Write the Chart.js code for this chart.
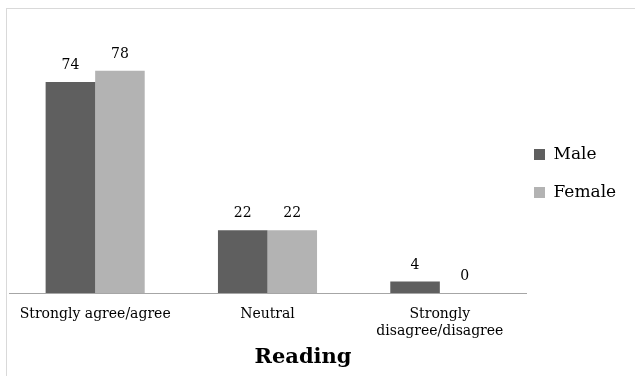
<!DOCTYPE html>
<html>
<head>
<meta charset="utf-8">
<script src="https://cdn.jsdelivr.net/npm/chart.js@4.4.1/dist/chart.umd.min.js"></script>
<style>
  html, body { margin: 0; padding: 0; background: #ffffff; }
  #wrap { position: relative; width: 635px; height: 376px; }
  canvas { display: block; }
</style>
</head>
<body>
<div id="wrap"><canvas id="c" width="635" height="376"></canvas></div>
<script>
const categories = ['Strongly agree/agree', 'Neutral', ['Strongly', 'disagree/disagree']];
const maleValues = [74, 22, 4];
const femaleValues = [78, 22, 0];
const seriesNames = ['Male', 'Female'];
const chartTitle = 'Reading';

const SERIF = '"DejaVu Serif", "Liberation Serif", serif';

// layout targets (pixels)
const PLOT_LEFT = 9, PLOT_RIGHT = 526, TITLE_CENTER = 303;
const LEG_FONT = 17, LEG_BOX = 11, LEG_PAD = 8;

// measure widest legend text to size the right-hand legend box
const mctx = document.createElement('canvas').getContext('2d');
mctx.font = LEG_FONT + 'px ' + SERIF;
const legTextW = Math.max(...seriesNames.map(s => mctx.measureText(s).width));
const legendW = LEG_PAD + LEG_BOX + LEG_FONT / 2 + legTextW + 10;
const padRight = 635 - PLOT_RIGHT - legendW;
const padLeft = 2 * TITLE_CENTER - 635 + padRight;
const yAxisW = PLOT_LEFT - padLeft;

const frame = {
  id: 'frame',
  beforeDraw(chart) {
    const ctx = chart.ctx;
    ctx.save();
    ctx.fillStyle = '#ffffff';
    ctx.fillRect(0, 0, chart.width, chart.height);
    ctx.strokeStyle = '#d9d9d9';
    ctx.lineWidth = 1;
    ctx.strokeRect(6.5, 8.5, 800, 600);
    ctx.restore();
  }
};

const valueLabels = {
  id: 'valueLabels',
  afterDatasetsDraw(chart) {
    const ctx = chart.ctx;
    ctx.save();
    ctx.font = '14px ' + SERIF;
    ctx.fillStyle = '#000000';
    ctx.textAlign = 'center';
    ctx.textBaseline = 'alphabetic';
    chart.data.datasets.forEach((ds, i) => {
      const meta = chart.getDatasetMeta(i);
      meta.data.forEach((el, j) => {
        ctx.fillText(String(ds.data[j]), el.x, el.y - 13);
      });
    });
    ctx.restore();
  }
};

new Chart(document.getElementById('c'), {
  type: 'bar',
  data: {
    labels: categories,
    datasets: [
      { label: seriesNames[0], data: maleValues, backgroundColor: '#5f5f5f', borderWidth: 0 },
      { label: seriesNames[1], data: femaleValues, backgroundColor: '#b3b3b3', borderWidth: 0 }
    ]
  },
  options: {
    responsive: false,
    animation: false,
    devicePixelRatio: 1,
    layout: { padding: { top: 36.5, left: padLeft, right: padRight, bottom: 0 } },
    datasets: { bar: { categoryPercentage: 0.575, barPercentage: 1 } },
    scales: {
      x: {
        grid: { display: false, drawTicks: true, tickLength: 13 },
        border: { display: true, color: '#a6a6a6', width: 1 },
        ticks: {
          color: '#000000',
          font: { family: SERIF, size: 14, lineHeight: 1.2 },
          padding: 0,
          maxRotation: 0,
          autoSkip: false
        }
      },
      y: {
        display: true,
        min: 0,
        max: 90,
        grid: { display: false, drawTicks: false },
        border: { display: false },
        ticks: { display: false },
        afterFit(scale) { scale.width = yAxisW; }
      }
    },
    plugins: {
      tooltip: { enabled: false },
      legend: {
        position: 'right',
        align: 'start',
        fullSize: false,
        title: { display: true, text: ' ', font: { size: 10, lineHeight: 1 }, padding: { top: 91.5, bottom: 0 } },
        labels: {
          boxWidth: LEG_BOX,
          boxHeight: LEG_BOX,
          padding: LEG_PAD,
          color: '#000000',
          font: { family: SERIF, size: LEG_FONT, lineHeight: '30px' },
          generateLabels(chart) {
            const items = Chart.defaults.plugins.legend.labels.generateLabels(chart);
            return items.map(it => Object.assign(it, { text: [it.text], lineWidth: 0 }));
          }
        }
      },
      title: {
        display: true,
        position: 'bottom',
        text: chartTitle,
        color: '#000000',
        font: { family: SERIF, size: 21, weight: 'bold', lineHeight: 1.2 },
        padding: { top: 5.8, bottom: 5.4 }
      }
    }
  },
  plugins: [frame, valueLabels]
});
</script>
</body>
</html>
